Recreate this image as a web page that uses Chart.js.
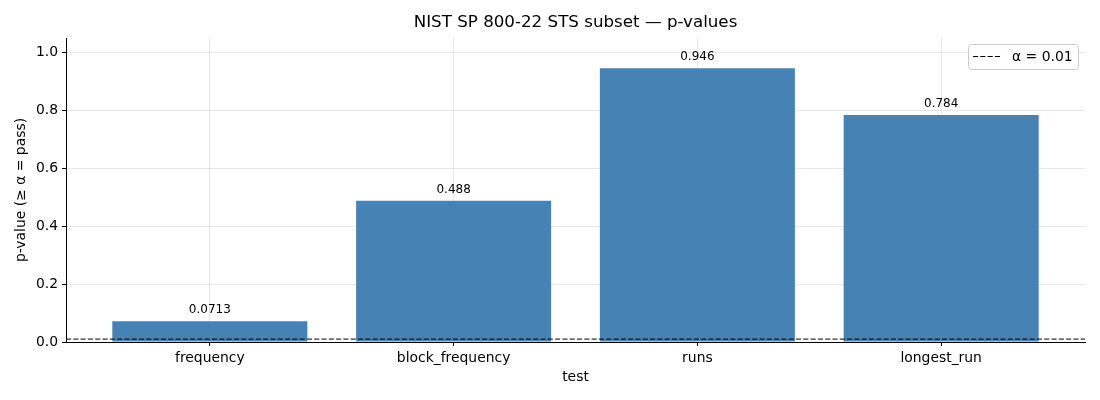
<!DOCTYPE html>
<html>
<head>
<meta charset="utf-8">
<script src="https://cdn.jsdelivr.net/npm/chart.js@4.4.1/dist/chart.umd.min.js"></script>
<style>
  html, body { margin: 0; padding: 0; background: #fff; }
  #wrap { width: 1100px; height: 400px; }
</style>
</head>
<body>
<div id="wrap"><canvas id="c" width="1100" height="400"></canvas></div>
<script>
const categories = ['frequency', 'block_frequency', 'runs', 'longest_run'];
const pValues = [0.0713, 0.488, 0.946, 0.784];
const alphaLevel = 0.01;
const yTicks = [0.0, 0.2, 0.4, 0.6, 0.8, 1.0];
const titleText = 'NIST SP 800-22 STS subset — p-values';
const xTitle = 'test';
const yTitle = 'p-value (≥ α = pass)';
const legendText = 'α = 0.01';

const FONT = "'DejaVu Sans', sans-serif";
const xMin = -0.59, xMax = categories.length - 1 + 0.59;
const DASH = [5.1, 2.2];

const barData = categories.map((c, i) => ({ x: i, y: pValues[i] }));
const lineData = [{ x: xMin, y: alphaLevel }, { x: xMax, y: alphaLevel }];

const gridColor = 'rgba(176,176,176,0.3)';

const valueLabelPlugin = {
  id: 'valueLabels',
  afterDatasetsDraw(chart) {
    const meta = chart.getDatasetMeta(0);
    const ctx = chart.ctx;
    ctx.save();
    ctx.font = '12px ' + FONT;
    ctx.fillStyle = '#000';
    ctx.textAlign = 'center';
    ctx.textBaseline = 'bottom';
    meta.data.forEach((bar, i) => {
      const txt = String(Number(pValues[i].toPrecision(3)));
      ctx.fillText(txt, bar.x, bar.y - 5);
    });
    ctx.restore();
  }
};

const legendPlugin = {
  id: 'mplLegend',
  afterDraw(chart) {
    const ca = chart.chartArea;
    const ctx = chart.ctx;
    const w = 110, h = 25;
    const x0 = Math.round(ca.right - 7 - w), y0 = Math.round(ca.top + 6);
    ctx.save();
    ctx.fillStyle = 'rgba(255,255,255,0.8)';
    ctx.strokeStyle = '#cccccc';
    ctx.lineWidth = 1;
    ctx.beginPath();
    if (ctx.roundRect) ctx.roundRect(x0 + 0.5, y0 + 0.5, w, h, 3);
    else ctx.rect(x0 + 0.5, y0 + 0.5, w, h);
    ctx.fill();
    ctx.stroke();
    const ds = chart.data.datasets[1];
    const ly = y0 + 12.5;
    ctx.strokeStyle = ds.borderColor;
    ctx.lineWidth = ds.borderWidth;
    ctx.setLineDash(ds.borderDash);
    ctx.beginPath();
    ctx.moveTo(x0 + 5, ly);
    ctx.lineTo(x0 + 34, ly);
    ctx.stroke();
    ctx.setLineDash([]);
    ctx.fillStyle = '#000';
    ctx.font = '13.9px ' + FONT;
    ctx.textAlign = 'left';
    ctx.textBaseline = 'middle';
    ctx.fillText(ds.label, x0 + 44, ly + 0.5);
    ctx.restore();
  }
};

new Chart(document.getElementById('c'), {
  data: {
    datasets: [
      {
        type: 'bar',
        label: 'p-value',
        data: barData,
        backgroundColor: '#4682b4',
        borderWidth: 0,
        barPercentage: 0.8,
        categoryPercentage: 1.0,
        order: 2
      },
      {
        type: 'line',
        label: legendText,
        data: lineData,
        borderColor: '#000',
        borderWidth: 1,
        borderDash: DASH,
        pointRadius: 0,
        fill: false,
        order: 1
      }
    ]
  },
  options: {
    responsive: false,
    animation: false,
    devicePixelRatio: 1,
    layout: { padding: { left: 0, right: 15, top: 0, bottom: 0 } },
    plugins: {
      title: {
        display: true,
        fullSize: false,
        text: titleText,
        color: '#000',
        font: { family: FONT, size: 16.7, weight: 'normal' },
        padding: { top: 13, bottom: 5 }
      },
      legend: { display: false },
      tooltip: { enabled: false }
    },
    scales: {
      x: {
        type: 'linear',
        min: xMin,
        max: xMax,
        offset: false,
        z: 1,
        afterBuildTicks: (s) => { s.ticks = categories.map((c, i) => ({ value: i })); },
        afterFit: (s) => { s.height = 58; },
        ticks: {
          callback: (v) => categories[v] ?? '',
          color: '#000',
          font: { family: FONT, size: 13.9 },
          padding: 4,
          maxRotation: 0,
          autoSkip: false
        },
        grid: { offset: false, color: gridColor, tickColor: '#000', tickLength: 4, lineWidth: 1 },
        border: { display: true, color: '#000', width: 1 },
        title: {
          display: true,
          text: xTitle,
          color: '#000',
          font: { family: FONT, size: 13.9 },
          padding: { top: 4, bottom: 14 }
        }
      },
      y: {
        type: 'linear',
        min: 0,
        max: 1.05,
        z: 1,
        afterBuildTicks: (s) => { s.ticks = yTicks.map(v => ({ value: v })); },
        afterFit: (s) => { s.width = 66; },
        ticks: {
          callback: (v) => Number(v).toFixed(1),
          color: '#000',
          font: { family: FONT, size: 13.9 },
          padding: 4
        },
        grid: { color: gridColor, tickColor: '#000', tickLength: 4, lineWidth: 1 },
        border: { display: true, color: '#000', width: 1 },
        title: {
          display: true,
          text: yTitle,
          color: '#000',
          font: { family: FONT, size: 13.9 },
          padding: { top: 13, bottom: 6 }
        }
      }
    }
  },
  plugins: [valueLabelPlugin, legendPlugin]
});
</script>
</body>
</html>
